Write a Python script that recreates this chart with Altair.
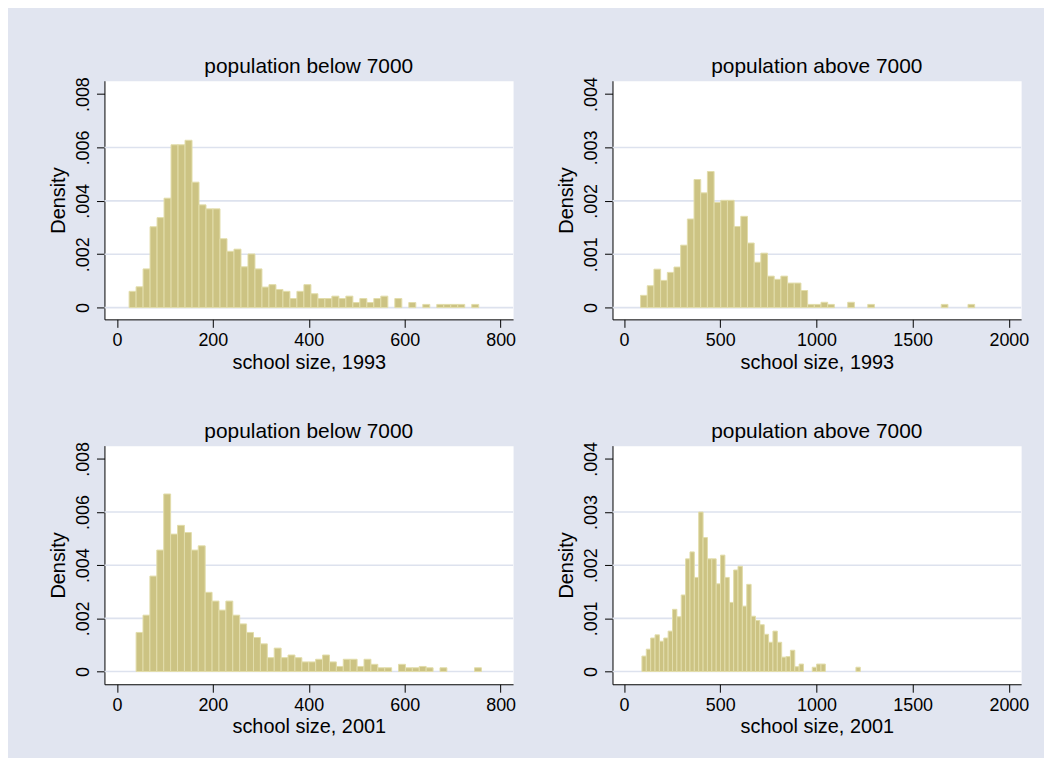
import altair as alt
import pandas as pd

# ---- data (density per bin, 50 bins per panel) ----
dens_small_1993 = [0.00061, 0.00078, 0.00145, 0.00303, 0.00337, 0.0041, 0.0061, 0.0061, 0.00627, 0.0047,
                   0.00385, 0.0037, 0.0037, 0.00258, 0.00211, 0.00219, 0.00153, 0.00201, 0.00145, 0.00077,
                   0.00086, 0.00068, 0.00061, 0.00034, 0.00061, 0.00086, 0.00052, 0.00034, 0.00034, 0.00043,
                   0.00034, 0.00043, 0.00019, 0.00034, 0.00019, 0.00034, 0.00043, 0.0, 0.00034, 0.0,
                   0.00019, 0.0, 0.00012, 0.0, 0.00012, 0.00012, 0.00012, 0.00012, 0.0, 0.00012]
dens_large_1993 = [0.00023, 0.00041, 0.00072, 0.00051, 0.00066, 0.00076, 0.00117, 0.00166, 0.0024, 0.00215,
                   0.00255, 0.00197, 0.00201, 0.00201, 0.00152, 0.00171, 0.00121, 0.00085, 0.00102, 0.00059,
                   0.00053, 0.00059, 0.00046, 0.00046, 0.00032, 0.00006, 0.00006, 0.0001, 0.00006, 0.0,
                   0.0, 0.0001, 0.0, 0.0, 0.00006, 0.0, 0.0, 0.0, 0.0, 0.0,
                   0.0, 0.0, 0.0, 0.0, 0.0, 0.00006, 0.0, 0.0, 0.0, 0.00006]
dens_small_2001 = [0.00147, 0.00212, 0.00359, 0.00457, 0.00668, 0.00517, 0.0055, 0.00523, 0.00457, 0.00473,
                   0.00298, 0.00265, 0.00231, 0.00265, 0.00212, 0.00179, 0.00147, 0.00128, 0.00104, 0.00052,
                   0.00088, 0.00052, 0.00062, 0.00052, 0.00036, 0.00036, 0.00046, 0.00062, 0.00036, 0.00019,
                   0.00046, 0.00046, 0.00019, 0.00046, 0.00027, 0.00014, 0.00014, 0.0, 0.00027, 0.00014,
                   0.00014, 0.00019, 0.00014, 0.0, 0.00014, 0.0, 0.0, 0.0, 0.0, 0.00014]
dens_large_2001 = [0.00029, 0.00042, 0.00063, 0.00069, 0.00057, 0.00063, 0.00076, 0.00117, 0.00103, 0.00144,
                   0.00212, 0.00225, 0.00177, 0.0030, 0.00252, 0.00212, 0.00212, 0.00165, 0.00219, 0.00177,
                   0.0013, 0.00191, 0.00198, 0.00123, 0.00164, 0.00104, 0.00096, 0.00088, 0.0007, 0.00055,
                   0.00076, 0.00055, 0.00027, 0.00028, 0.0004, 0.00009, 0.00014, 0.0, 0.0, 0.00008,
                   0.00014, 0.00014, 0.0, 0.0, 0.0, 0.0, 0.0, 0.0, 0.0, 0.00008]

bin_start = [25.4, 86.0, 40.0, 93.0]
bin_width = [14.58, 34.73, 14.4, 22.7]

titles = ["population below 7000", "population above 7000", "population below 7000", "population above 7000"]
x_titles = ["school size, 1993", "school size, 1993", "school size, 2001", "school size, 2001"]
x_ticks_small = [0, 200, 400, 600, 800]
x_ticks_large = [0, 500, 1000, 1500, 2000]
y_ticks_small = [0, 0.002, 0.004, 0.006, 0.008]
y_ticks_large = [0, 0.001, 0.002, 0.003, 0.004]
grid_small = [0, 0.002, 0.004, 0.006]
grid_large = [0, 0.001, 0.002, 0.003]

# ---- styling ----
BG = "#E1E5F0"
GRID = "#DDE2EE"
FILL = "#CCC383"
EDGE = "#E2DDAA"
FONT = "Liberation Sans, Arial"
W, H = 411, 240


def panel(dens, start, width, title, xtitle, xdom, xticks, ydom, yticks, grid):
    df = pd.DataFrame({
        "lo": [start + i * width for i in range(len(dens))],
        "hi": [start + (i + 1) * width for i in range(len(dens))],
        "d": dens,
        "z": [0.0] * len(dens),
    })
    df = df[df["d"] > 0]
    gdf = pd.DataFrame({"g": grid})
    xs = alt.Scale(domain=xdom, nice=False, zero=False)
    ys = alt.Scale(domain=ydom, nice=False, zero=False)
    yaxis = alt.Axis(values=yticks, title="Density", grid=False, labelFlush=False,
                     labelOverlap=False, tickSize=8, labelPadding=4, titlePadding=6,
                     labelAngle=270, labelAlign="center", labelBaseline="bottom",
                     labelExpr="datum.value == 0 ? '0' : replace(format(datum.value, '.3f'), '0.', '.')")
    xaxis = alt.Axis(values=xticks, title=xtitle, grid=False, labelFlush=False,
                     labelOverlap=False, tickSize=8, labelPadding=4, titlePadding=3,
                     format="d")
    rules = alt.Chart(gdf).mark_rule(color=GRID, strokeWidth=1.6).encode(
        y=alt.Y("g:Q", scale=ys, axis=yaxis)
    )
    bars = alt.Chart(df).mark_rect(fill=FILL, stroke=EDGE, strokeWidth=1).encode(
        x=alt.X("lo:Q", scale=xs, axis=xaxis),
        x2="hi:Q",
        y=alt.Y("d:Q", scale=ys, axis=yaxis),
        y2="z:Q",
    )
    return alt.layer(rules, bars).properties(
        width=W, height=H,
        title=alt.TitleParams(title, fontSize=21, font=FONT, fontWeight="normal",
                              color="black", anchor="middle", offset=0),
    )


p1 = panel(dens_small_1993, bin_start[0], bin_width[0], titles[0], x_titles[0],
           [-26, 826], x_ticks_small, [-0.00044, 0.0085], y_ticks_small, grid_small)
p2 = panel(dens_large_1993, bin_start[1], bin_width[1], titles[1], x_titles[1],
           [-60, 2064], x_ticks_large, [-0.00022, 0.00425], y_ticks_large, grid_large)
p3 = panel(dens_small_2001, bin_start[2], bin_width[2], titles[2], x_titles[2],
           [-26, 826], x_ticks_small, [-0.00048, 0.0085], y_ticks_small, grid_small)
p4 = panel(dens_large_2001, bin_start[3], bin_width[3], titles[3], x_titles[3],
           [-60, 2064], x_ticks_large, [-0.00024, 0.00425], y_ticks_large, grid_large)

chart = alt.concat(p1, p2, p3, p4, columns=2,
                   spacing=alt.RowColnumber(row=127, column=100), bounds="flush").configure(
    background=BG,
    padding={"left": 40, "top": 45, "right": 14, "bottom": 18},
).configure_view(
    fill="white", stroke="transparent"
).configure_axis(
    domainColor="black", tickColor="black", domainWidth=1, tickWidth=1,
    labelFont=FONT, titleFont=FONT, labelFontSize=18, titleFontSize=20,
    labelColor="black", titleColor="black", titleFontWeight="normal",
)

chart.save("out.html", embed_options={"renderer": "svg", "actions": False})
